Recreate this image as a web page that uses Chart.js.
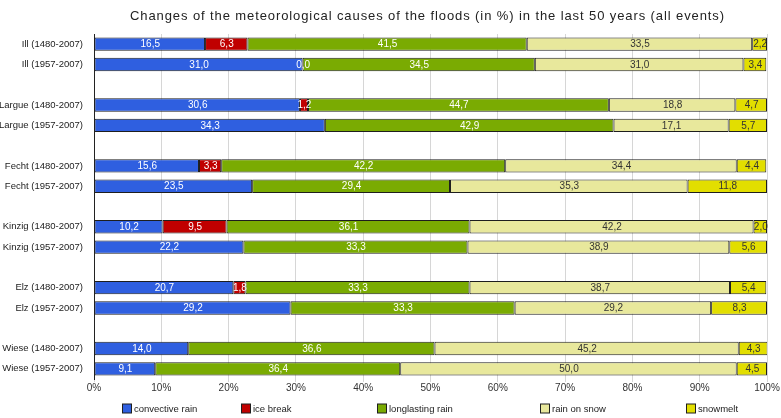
<!DOCTYPE html>
<html>
<head>
<meta charset="utf-8">
<script src="https://cdn.jsdelivr.net/npm/chart.js@4"></script>
<style>
  html, body { margin: 0; padding: 0; background: #fff; }
  #wrap { width: 781px; height: 418px; }
</style>
</head>
<body>
<div id="wrap"><canvas id="chart"></canvas></div>
<script>
// rows, with blank rows between the rivers
const categories = [
  'Ill (1480-2007)', 'Ill (1957-2007)', '',
  'Largue (1480-2007)', 'Largue (1957-2007)', '',
  'Fecht (1480-2007)', 'Fecht (1957-2007)', '',
  'Kinzig (1480-2007)', 'Kinzig (1957-2007)', '',
  'Elz (1480-2007)', 'Elz (1957-2007)', '',
  'Wiese (1480-2007)', 'Wiese (1957-2007)'
];
const convectiveRain  = [16.5, 31.0, null, 30.6, 34.3, null, 15.6, 23.5, null, 10.2, 22.2, null, 20.7, 29.2, null, 14.0, 9.1];
const iceBreak        = [6.3, 0.0, null, 1.2, null, null, 3.3, null, null, 9.5, null, null, 1.8, null, null, null, null];
const longlastingRain = [41.5, 34.5, null, 44.7, 42.9, null, 42.2, 29.4, null, 36.1, 33.3, null, 33.3, 33.3, null, 36.6, 36.4];
const rainOnSnow      = [33.5, 31.0, null, 18.8, 17.1, null, 34.4, 35.3, null, 42.2, 38.9, null, 38.7, 29.2, null, 45.2, 50.0];
const snowmelt        = [2.2, 3.4, null, 4.7, 5.7, null, 4.4, 11.8, null, 2.0, 5.6, null, 5.4, 8.3, null, 4.3, 4.5];
const xTicks = [0, 10, 20, 30, 40, 50, 60, 70, 80, 90, 100];

const titleText = 'Changes of the meteorological causes of the floods (in %) in the last 50 years (all events)';
const FONT = '"Liberation Sans", Arial, sans-serif';
// where each legend entry starts, as a share of the plot width
const legendSlots = [0.042, 0.219, 0.42, 0.662, 0.879];

function series(label, data, color, textColor) {
  return {
    label: label,
    data: data,
    backgroundColor: color,
    borderColor: '#1e1e1e',
    borderWidth: 1,
    borderSkipped: false,
    textColor: textColor,
    barPercentage: 0.66,
    categoryPercentage: 1
  };
}

// value labels in the middle of every segment, comma decimals
const segmentLabels = {
  id: 'segmentLabels',
  afterDatasetsDraw(chart) {
    const ctx = chart.ctx;
    ctx.save();
    ctx.font = '10px ' + FONT;
    ctx.textAlign = 'center';
    ctx.textBaseline = 'middle';
    chart.data.datasets.forEach((ds, i) => {
      const meta = chart.getDatasetMeta(i);
      meta.data.forEach((bar, j) => {
        const v = ds.data[j];
        if (v === null || v === undefined) return;
        const p = bar.getProps(['x', 'y', 'base'], true);
        ctx.fillStyle = ds.textColor;
        ctx.fillText(v.toFixed(1).replace('.', ','), (p.x + p.base) / 2 + 0.5, p.y + 0.5);
      });
    });
    ctx.restore();
  }
};

// title and legend, placed relative to the plot area
const titleAndLegend = {
  id: 'titleAndLegend',
  afterDraw(chart) {
    const ctx = chart.ctx;
    const a = chart.chartArea;
    const mid = (a.left + a.right) / 2;
    ctx.save();
    ctx.font = '13px ' + FONT;
    ctx.letterSpacing = '0.9px';
    ctx.fillStyle = '#222';
    ctx.textAlign = 'center';
    ctx.textBaseline = 'middle';
    ctx.fillText(titleText, mid - 3, 16);

    ctx.letterSpacing = '0px';
    ctx.font = '9.5px ' + FONT;
    ctx.textAlign = 'left';
    const box = 9, gap = 3;
    const y = a.bottom + 29;
    chart.data.datasets.forEach((ds, i) => {
      const x = Math.round(a.left + legendSlots[i] * (a.right - a.left));
      ctx.fillStyle = ds.backgroundColor;
      ctx.fillRect(x + 0.5, y - box / 2 + 0.5, box, box);
      ctx.strokeStyle = '#1e1e1e';
      ctx.lineWidth = 1;
      ctx.strokeRect(x + 0.5, y - box / 2 + 0.5, box, box);
      ctx.fillStyle = '#222';
      ctx.fillText(ds.label, x + box + gap, y + 1);
    });
    ctx.restore();
  }
};

new Chart(document.getElementById('chart'), {
  type: 'bar',
  data: {
    labels: categories,
    datasets: [
      series('convective rain', convectiveRain, '#2f5fe0', '#ffffff'),
      series('ice break', iceBreak, '#c00000', '#ffffff'),
      series('longlasting rain', longlastingRain, '#7aab02', '#ffffff'),
      series('rain on snow', rainOnSnow, '#e8e89c', '#333333'),
      series('snowmelt', snowmelt, '#e2de00', '#333333')
    ]
  },
  plugins: [segmentLabels, titleAndLegend],
  options: {
    responsive: true,
    maintainAspectRatio: false,
    animation: false,
    indexAxis: 'y',
    layout: { padding: { top: 34, right: 14, bottom: 24, left: 0 } },
    scales: {
      x: {
        stacked: true,
        min: 0,
        max: 100,
        afterBuildTicks(scale) {
          scale.ticks = xTicks.map(v => ({ value: v }));
        },
        ticks: {
          callback: v => v + '%',
          font: { family: FONT, size: 10 },
          color: '#333',
          padding: 0
        },
        grid: { color: '#d6d6d6', tickLength: 3, drawTicks: true },
        border: { display: false }
      },
      y: {
        stacked: true,
        afterFit(scale) { scale.width = 94; },
        ticks: {
          font: { family: FONT, size: 9.5 },
          color: '#222',
          padding: 3,
          autoSkip: false
        },
        grid: { display: false },
        border: { display: true, color: '#222', width: 1 }
      }
    },
    plugins: {
      title: { display: false },
      tooltip: { enabled: false },
      legend: { display: false }
    }
  }
});
</script>
</body>
</html>
